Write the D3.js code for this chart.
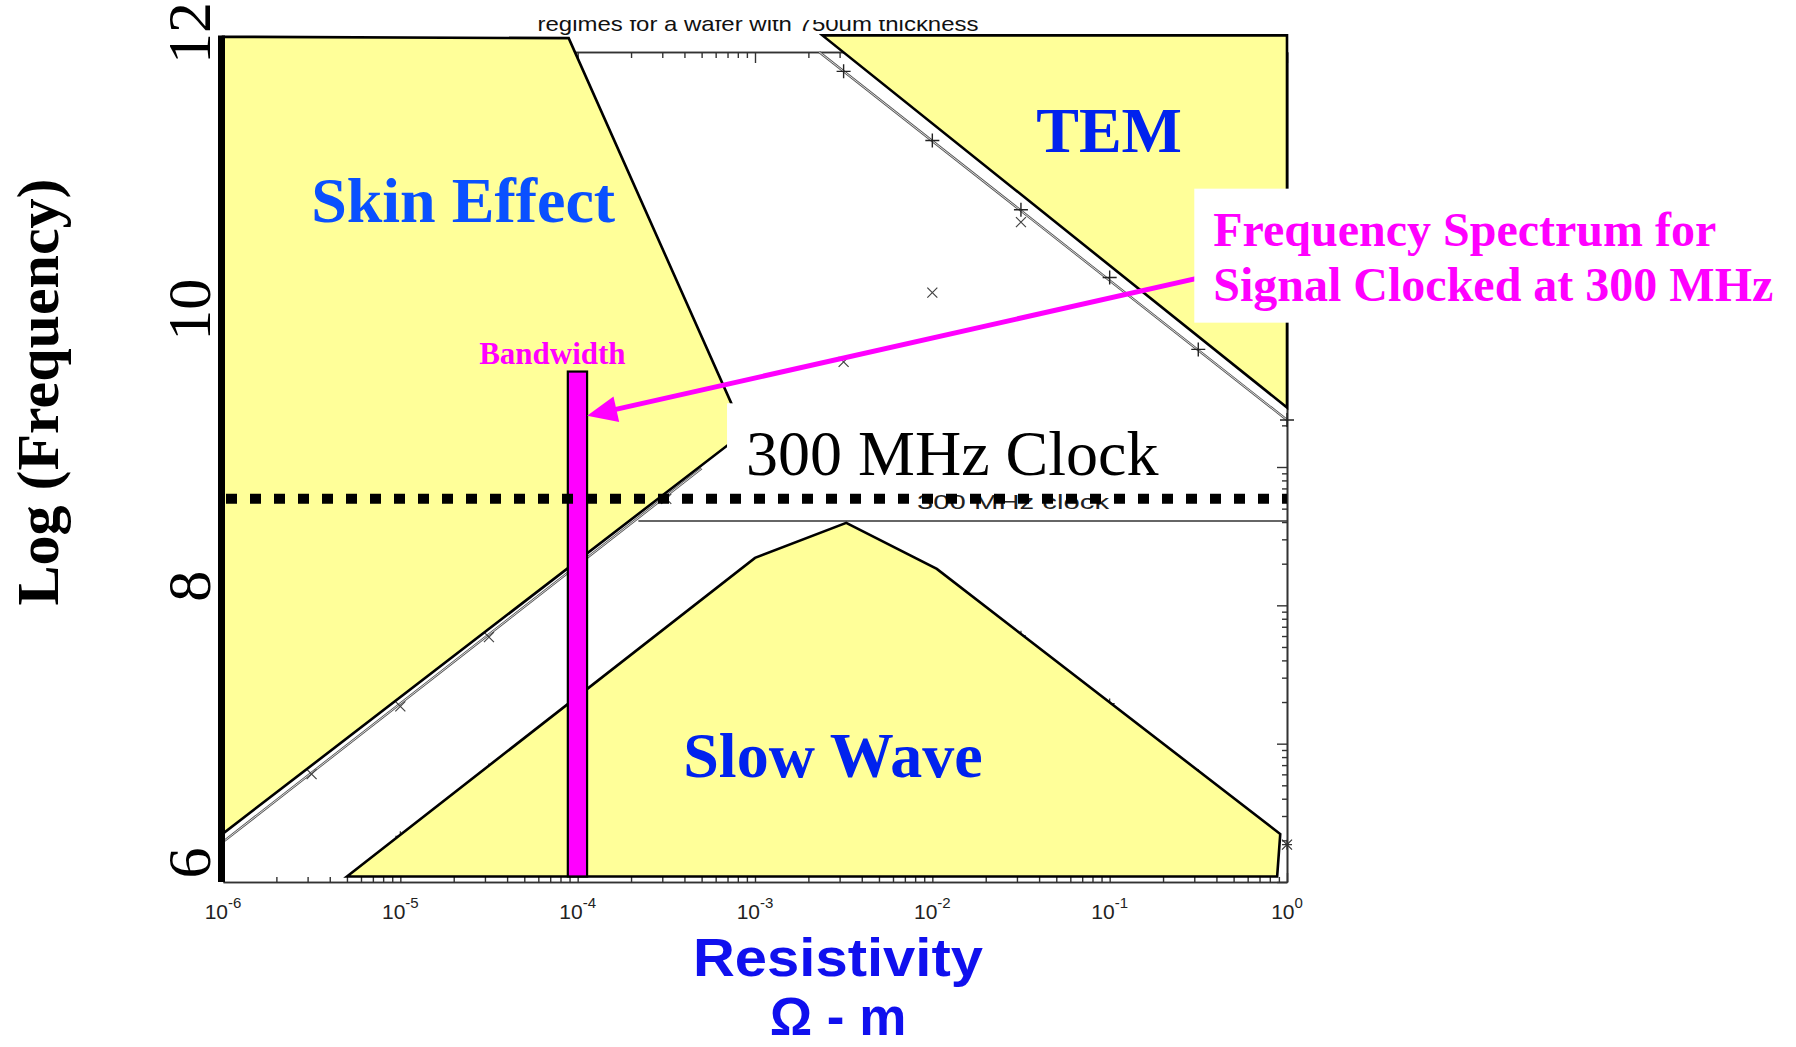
<!DOCTYPE html>
<html>
<head>
<meta charset="utf-8">
<script src="https://cdn.jsdelivr.net/npm/d3@7"></script>
<style>
  body { margin: 0; background: #fff; }
  svg { display: block; }
</style>
</head>
<body>
<div id="chart"></div>
<script>
// x = resistivity (ohm-m, log), y = log10(frequency)
// regions
const skinX = [1e-6, 8.9e-5, 8.7e-4, 1e-6];
const skinY = [12.11, 12.10, 9.25, 6.35];
const temX = [2.4e-3, 1, 1];
const temY = [12.12, 12.12, 9.43];
const slowX = [5.0e-6, 1.0e-3, 3.27e-3, 1.06e-2, 0.916, 0.88];
const slowY = [6.04, 8.343, 8.596, 8.263, 6.347, 6.04];

// curves of the underlying plot
const skinLineX = [1e-6, 5e-4];
const skinLineY = [6.29, 8.99];
const skinMarkX = [3.16e-6, 1e-5, 3.16e-5, 1e-4, 3.16e-4, 1e-3, 3.16e-3, 1e-2, 3.16e-2, 0.1];
const skinMarkY = [6.78, 7.27, 7.77, 8.27, 8.77, 9.27, 9.76, 10.26, 10.77, 11.26];
const temLineX = [2.3e-3, 1];
const temLineY = [12.0, 9.34];
const temMarkX = [3.16e-3, 1e-2, 3.16e-2, 0.1, 0.316, 1];
const temMarkY = [11.86, 11.36, 10.86, 10.37, 9.85, 9.34];
const slowMarkX = [1e-5, 3.16e-5, 3.16e-2, 0.1, 0.316, 1];
const slowMarkY = [6.33, 6.82, 7.78, 7.29, 6.78, 6.27];

const clockLineX = [2.2e-4, 1];
const clockLineY = 8.61;
const clockDotY = 8.77;

const bandX = [8.8e-5, 1.13e-4];
const bandY = [6.04, 9.69];
const arrowFrom = [0.62, 10.45];
const arrowTo = [1.13e-4, 9.37];

const xTickValues = [1e-6, 1e-5, 1e-4, 1e-3, 1e-2, 1e-1, 1];
const xTickExp = ["-6", "-5", "-4", "-3", "-2", "-1", "0"];
const yTickValues = [6, 8, 10, 12];
const yTickLabels = ["6", "8", "10", "12"];

const regionText = ["Skin Effect", "TEM", "Slow Wave"];
const regionX = [2.26e-5, 0.0993, 2.75e-3];
const regionY = [10.77, 11.28, 6.76];
const regionColor = ["#0a50ff", "#0022ee", "#0022ee"];

const W = 1796, H = 1047;
const serif = "'Liberation Serif', 'Times New Roman', serif";
const sans = "'Liberation Sans', Arial, sans-serif";

const x = d3.scaleLog().domain([1e-6, 1]).range([223, 1287]);
const y = d3.scaleLinear().domain([6, 12]).range([882, 52]);

const svg = d3.select("#chart").append("svg")
  .attr("width", W)
  .attr("height", H);

const line = d3.line().x(d => x(d[0])).y(d => y(d[1]));
const pairs = (xs, ys) => xs.map((v, i) => [v, ys[i]]);

// minor log ticks for the old frame
const xMinor = [], yMinor = [];
for (let k = -6; k < 0; k++) for (let m = 2; m <= 9; m++) xMinor.push(m * Math.pow(10, k));
for (let k = 6; k < 12; k++) for (let m = 2; m <= 9; m++) yMinor.push(k + Math.log10(m));

// ---- old plot frame ----
const frame = svg.append("g");
function tickAxis(axis, tr, vals, size) {
  frame.append("g")
    .attr("transform", tr)
    .call(axis.tickValues(vals).tickSize(size).tickSizeOuter(0).tickFormat(""))
    .call(g => g.select(".domain").attr("stroke", "#333").attr("stroke-width", 1.6))
    .call(g => g.selectAll(".tick line").attr("stroke", "#333").attr("stroke-width", 1.4));
}
tickAxis(d3.axisBottom(x), `translate(0,${y(6)})`, xMinor, -5);
tickAxis(d3.axisBottom(x), `translate(0,${y(6)})`, xTickValues, -9);
tickAxis(d3.axisTop(x), `translate(0,${y(12)})`, xMinor, -6);
tickAxis(d3.axisTop(x), `translate(0,${y(12)})`, xTickValues, -11);
tickAxis(d3.axisRight(y), `translate(${x(1)},0)`, yMinor, -5);
tickAxis(d3.axisRight(y), `translate(${x(1)},0)`, d3.range(6, 13), -10);

// ---- thin curves with markers ----
function thinCurve(xs, ys) {
  const d = line(pairs(xs, ys));
  svg.append("path").attr("d", d).attr("fill", "none").attr("stroke", "#555").attr("stroke-width", 2.4);
  svg.append("path").attr("d", d).attr("fill", "none").attr("stroke", "#fff").attr("stroke-width", 0.8);
}
function marks(xs, ys, kind, s, color, w) {
  svg.append("g").selectAll("path")
    .data(pairs(xs, ys))
    .join("path")
      .attr("d", d => {
        const px = x(d[0]), py = y(d[1]);
        if (kind === "plus") return `M${px - s},${py}H${px + s}M${px},${py - s}V${py + s}`;
        return `M${px - s},${py - s}L${px + s},${py + s}M${px - s},${py + s}L${px + s},${py - s}`;
      })
      .attr("stroke", color)
      .attr("stroke-width", w)
      .attr("fill", "none");
}

thinCurve(skinLineX, skinLineY);
thinCurve(temLineX, temLineY);
marks(skinMarkX, skinMarkY, "cross", 5, "#444", 1.2);
marks(temMarkX, temMarkY, "plus", 7, "#222", 1.4);
marks(slowMarkX, slowMarkY, "plus", 5, "#333", 1.2);
marks(slowMarkX.slice(-1), slowMarkY.slice(-1), "cross", 5, "#333", 1.2);

svg.append("line")
  .attr("x1", x(clockLineX[0])).attr("x2", x(clockLineX[1]))
  .attr("y1", y(clockLineY)).attr("y2", y(clockLineY))
  .attr("stroke", "#333").attr("stroke-width", 1.6);

// original small texts
svg.append("text")
  .attr("x", x(8.2e-3)).attr("y", y(8.70))
  .attr("font-family", sans).attr("font-size", 20)
  .attr("textLength", 192).attr("lengthAdjust", "spacingAndGlyphs")
  .attr("fill", "#222")
  .text("300 MHz clock");

svg.append("clipPath").attr("id", "titleclip")
  .append("rect").attr("x", 0).attr("y", 20).attr("width", W).attr("height", 20);
svg.append("text")
  .attr("clip-path", "url(#titleclip)")
  .attr("x", 758).attr("y", 31)
  .attr("text-anchor", "middle")
  .attr("font-family", sans).attr("font-size", 21)
  .attr("textLength", 441).attr("lengthAdjust", "spacingAndGlyphs")
  .attr("fill", "#111")
  .text("regimes for a wafer with 750um thickness");

// ---- regions ----
[[skinX, skinY], [temX, temY], [slowX, slowY]].forEach(([xs, ys]) => {
  svg.append("path")
    .attr("d", line(pairs(xs, ys)) + "Z")
    .attr("fill", "#ffff99")
    .attr("stroke", "#000")
    .attr("stroke-width", 2.6)
    .attr("stroke-linejoin", "miter");
});

// bandwidth bar
svg.append("rect")
  .attr("x", x(bandX[0]))
  .attr("y", y(bandY[1]))
  .attr("width", x(bandX[1]) - x(bandX[0]))
  .attr("height", y(bandY[0]) - y(bandY[1]))
  .attr("fill", "#ff00ff")
  .attr("stroke", "#000")
  .attr("stroke-width", 2.2);

svg.append("text")
  .attr("x", x(7.2e-5)).attr("y", y(9.745))
  .attr("text-anchor", "middle")
  .attr("font-family", serif).attr("font-weight", "bold").attr("font-size", 31)
  .attr("fill", "#ff00ff")
  .text("Bandwidth");

// dotted clock line
svg.append("line")
  .attr("x1", x(1e-6) + 3).attr("x2", x(1))
  .attr("y1", y(clockDotY)).attr("y2", y(clockDotY))
  .attr("stroke", "#000").attr("stroke-width", 10)
  .attr("stroke-dasharray", "11,13");

// arrow
const ax0 = x(arrowFrom[0]), ay0 = y(arrowFrom[1]);
const ax1 = x(arrowTo[0]), ay1 = y(arrowTo[1]);
const ang = Math.atan2(ay1 - ay0, ax1 - ax0);
const hl = 30, hw = 13;
const bx = ax1 - hl * Math.cos(ang), by = ay1 - hl * Math.sin(ang);
svg.append("line")
  .attr("x1", ax0).attr("y1", ay0).attr("x2", bx + 4 * Math.cos(ang)).attr("y2", by + 4 * Math.sin(ang))
  .attr("stroke", "#ff00ff").attr("stroke-width", 5);
svg.append("path")
  .attr("d", `M${ax1},${ay1}L${bx + hw * Math.sin(ang)},${by - hw * Math.cos(ang)}L${bx - hw * Math.sin(ang)},${by + hw * Math.cos(ang)}Z`)
  .attr("fill", "#ff00ff");

// boxed labels
function boxedText(lines, px, py, lineH, size, color, weight, pad) {
  const g = svg.append("g");
  const t = g.append("text")
    .attr("font-family", serif)
    .attr("font-size", size)
    .attr("font-weight", weight)
    .attr("fill", color);
  lines.forEach((s, i) => t.append("tspan").attr("x", px).attr("y", py + i * lineH).text(s));
  const b = t.node().getBBox();
  g.insert("rect", "text")
    .attr("x", b.x - pad[3])
    .attr("y", b.y - pad[0])
    .attr("width", b.width + pad[1] + pad[3])
    .attr("height", b.height + pad[0] + pad[2])
    .attr("fill", "#fff");
}
boxedText(["300 MHz Clock"], x(8.9e-4), y(8.94), 0, 64, "#000", "normal", [15, 15, 1, 19]);
boxedText(["Frequency Spectrum for", "Signal Clocked at 300 MHz"], x(0.384), y(10.60), 55, 48, "#ff00ff", "bold", [14, 20, 12, 19]);

// region names
regionText.forEach((s, i) => {
  svg.append("text")
    .attr("x", x(regionX[i])).attr("y", y(regionY[i]))
    .attr("text-anchor", "middle")
    .attr("font-family", serif).attr("font-weight", "bold").attr("font-size", 64)
    .attr("fill", regionColor[i])
    .text(s);
});

// ---- thick y axis and labels ----
svg.append("line")
  .attr("x1", x(1e-6) - 1.5).attr("x2", x(1e-6) - 1.5)
  .attr("y1", y(12.12)).attr("y2", y(6))
  .attr("stroke", "#000").attr("stroke-width", 7);

yTickValues.forEach((v, i) => {
  svg.append("text")
    .attr("transform", `translate(210,${y(v) - 19}) rotate(-90)`)
    .attr("text-anchor", "middle")
    .attr("font-family", serif).attr("font-size", 62)
    .attr("fill", "#000")
    .text(yTickLabels[i]);
});

svg.append("text")
  .attr("transform", `translate(58,392) rotate(-90)`)
  .attr("text-anchor", "middle")
  .attr("font-family", serif).attr("font-weight", "bold").attr("font-size", 60)
  .attr("fill", "#000")
  .text("Log (Frequency)");

// x tick labels 10^k
xTickValues.forEach((v, i) => {
  const t = svg.append("text")
    .attr("x", x(v)).attr("y", 919)
    .attr("text-anchor", "middle")
    .attr("font-family", sans).attr("font-size", 21)
    .attr("fill", "#222");
  t.append("tspan").text("10");
  t.append("tspan").attr("dy", -11).attr("font-size", 15).text(xTickExp[i]);
});

svg.append("text")
  .attr("x", 838).attr("y", 976)
  .attr("text-anchor", "middle")
  .attr("font-family", sans).attr("font-weight", "bold").attr("font-size", 53)
  .attr("textLength", 290).attr("lengthAdjust", "spacingAndGlyphs")
  .attr("fill", "#1010ee")
  .text("Resistivity");
svg.append("text")
  .attr("x", 838).attr("y", 1035)
  .attr("text-anchor", "middle")
  .attr("font-family", sans).attr("font-weight", "bold").attr("font-size", 53)
  .attr("fill", "#1010ee")
  .text("Ω - m");
</script>
</body>
</html>
